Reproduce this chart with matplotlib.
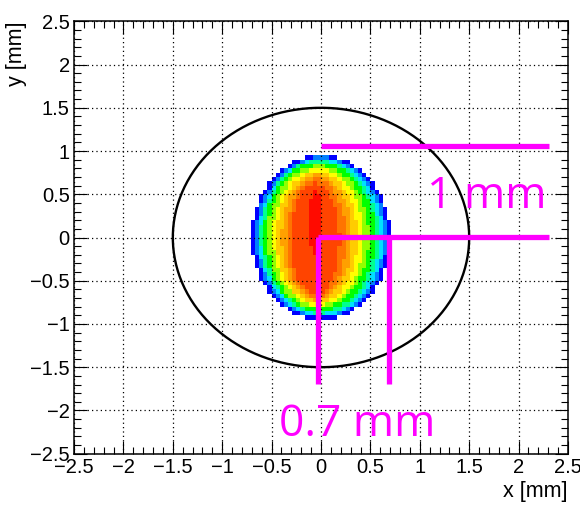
import numpy as np
import matplotlib.pyplot as plt
from matplotlib.colors import ListedColormap
from matplotlib.ticker import MultipleLocator

plt.rcParams['font.family'] = ['Liberation Sans', 'DejaVu Sans']

# beam spot colour levels, outermost first; each level fills the box given (mm)
level_colors = ['#0000ff', '#0080ff', '#00e0ff', '#00ff90', '#00ff00', '#90ff00',
                '#ffff00', '#ffcc00', '#ffa000', '#ff7400', '#ff4400', '#ff0a00']
level_left = [-0.70, -0.66, -0.63, -0.61, -0.58, -0.54, -0.49, -0.45, -0.40, -0.35, -0.30, -0.13]
level_right = [0.70, 0.66, 0.63, 0.59, 0.55, 0.49, 0.43, 0.37, 0.31, 0.25, 0.19, 0.01]
level_bottom = [-0.95, -0.92, -0.90, -0.88, -0.85, -0.82, -0.79, -0.76, -0.73, -0.70, -0.67, -0.18]
level_top = [0.95, 0.93, 0.91, 0.89, 0.87, 0.83, 0.80, 0.76, 0.73, 0.68, 0.63, 0.55]

# aperture
circle_radius = 1.5

# scale bars
bar_x = [[0.0, 2.31], [-0.03, 2.31], [-0.03, -0.03], [0.69, 0.69]]
bar_y = [[1.06, 1.06], [0.01, 0.01], [0.01, -1.69], [0.01, -1.69]]
bar_labels = ['1 mm', '0.7 mm']
bar_label_x = [1.07, -0.43]
bar_label_y = [0.34, -2.30]

# histogram binning: 120 bins in x, 100 in y
x_edges = np.linspace(-2.5, 2.5, 121)
y_edges = np.linspace(-2.5, 2.5, 101)
xc = (x_edges[:-1] + x_edges[1:]) / 2
yc = (y_edges[:-1] + y_edges[1:]) / 2
X, Y = np.meshgrid(xc, yc)
level = np.zeros_like(X)
for i in range(len(level_colors)):
    cx = (level_left[i] + level_right[i]) / 2
    cy = (level_bottom[i] + level_top[i]) / 2
    a = (level_right[i] - level_left[i]) / 2
    b = (level_top[i] - level_bottom[i]) / 2
    inside = ((X - cx) / a) ** 2 + ((Y - cy) / b) ** 2 <= 1
    level[inside] = i + 1
H = np.ma.masked_where(level == 0, level)

fig = plt.figure(figsize=(5.8, 5.05), dpi=100)
ax = fig.add_axes([0.1276, 0.1016, 0.8517, 0.8562])

ax.pcolormesh(x_edges, y_edges, H, cmap=ListedColormap(level_colors),
              vmin=0.5, vmax=len(level_colors) + 0.5, antialiased=False)

t = np.linspace(0, 2 * np.pi, 400)
ax.plot(circle_radius * np.cos(t), circle_radius * np.sin(t), color='black', lw=1.7, zorder=3)

for xs, ys in zip(bar_x, bar_y):
    ax.plot(xs, ys, color='#ff00ff', lw=3.8, solid_capstyle='butt', zorder=4)
for txt, tx, ty in zip(bar_labels, bar_label_x, bar_label_y):
    ax.text(tx, ty, txt, color='#ff00ff', fontsize=32, family=['Open Sans', 'DejaVu Sans'],
            ha='left', va='baseline', zorder=5, clip_on=False)

ax.set_xlim(-2.5, 2.5)
ax.set_ylim(-2.5, 2.5)
ax.xaxis.set_major_locator(MultipleLocator(0.5))
ax.yaxis.set_major_locator(MultipleLocator(0.5))
ax.xaxis.set_minor_locator(MultipleLocator(0.1))
ax.yaxis.set_minor_locator(MultipleLocator(0.1))
ax.xaxis.set_major_formatter(lambda v, p: f'{v:g}'.replace('-', '\u2212'))
ax.yaxis.set_major_formatter(lambda v, p: f'{v:g}'.replace('-', '\u2212'))
ax.grid(True, which='major', color='black', linestyle=(0, (1, 2.5)), linewidth=0.9)
ax.tick_params(which='both', direction='in', top=True, right=True, width=0.8,
               labelsize=14.5, pad=3)
ax.tick_params(which='major', length=9.5)
ax.tick_params(which='minor', length=5)
for s in ax.spines.values():
    s.set_linewidth(1.1)

ax.set_xlabel('x [mm]', loc='right', fontsize=15.5, labelpad=3)
ax.set_ylabel('y [mm]', loc='top', fontsize=15.5, labelpad=2)

fig.savefig('out.png', dpi=100)
